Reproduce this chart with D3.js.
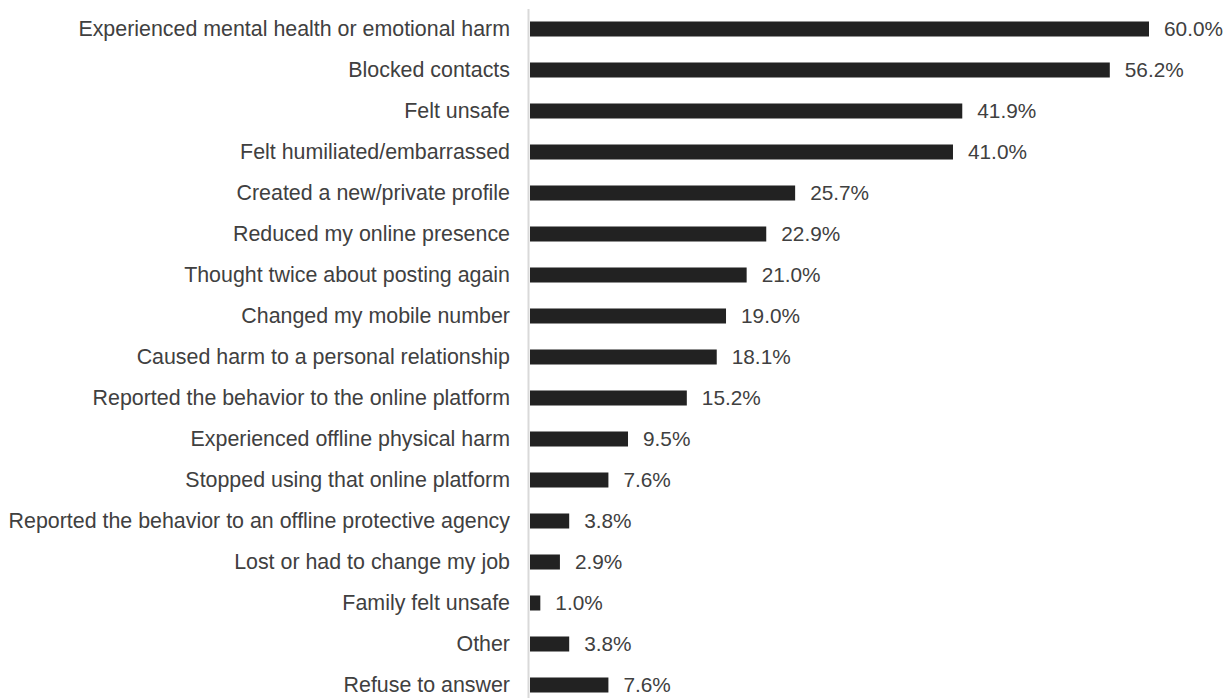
<!DOCTYPE html>
<html>
<head>
<meta charset="utf-8">
<script src="https://cdn.jsdelivr.net/npm/d3@7"></script>
<style>
  html, body { margin: 0; padding: 0; background: #ffffff; }
  svg { display: block; }
  text { font-family: "Liberation Sans", Arial, "DejaVu Sans", sans-serif; }
</style>
</head>
<body>
<svg id="chart" width="1231" height="698"></svg>
<script>
// Consequences reported, share of respondents (%)
const categories = [
  "Experienced mental health or emotional harm",
  "Blocked contacts",
  "Felt unsafe",
  "Felt humiliated/embarrassed",
  "Created a new/private profile",
  "Reduced my online presence",
  "Thought twice about posting again",
  "Changed my mobile number",
  "Caused harm to a personal relationship",
  "Reported the behavior to the online platform",
  "Experienced offline physical harm",
  "Stopped using that online platform",
  "Reported the behavior to an offline protective agency",
  "Lost or had to change my job",
  "Family felt unsafe",
  "Other",
  "Refuse to answer"
];
const values = [60.0, 56.2, 41.9, 41.0, 25.7, 22.9, 21.0, 19.0, 18.1, 15.2, 9.5, 7.6, 3.8, 2.9, 1.0, 3.8, 7.6];

const rows = categories.map((c, i) => ({ category: c, value: values[i] }));

const svg = d3.select("#chart");
const axisX = 528;

const x = d3.scaleLinear()
  .domain([0, 60])
  .range([axisX + 2, 1149]);

const y = d3.scaleBand()
  .domain(categories)
  .range([8.5, 705.5])
  .paddingInner(0.634)
  .paddingOuter(0.317);

// Bars
svg.append("g")
  .selectAll("rect")
  .data(rows)
  .join("rect")
  .attr("x", x(0))
  .attr("y", d => y(d.category))
  .attr("width", d => x(d.value) - x(0))
  .attr("height", y.bandwidth())
  .attr("fill", "#222222");

// Value labels
svg.append("g")
  .selectAll("text")
  .data(rows)
  .join("text")
  .attr("x", d => x(d.value) + 15)
  .attr("y", d => y(d.category) + y.bandwidth() / 2)
  .attr("dy", "0.35em")
  .attr("font-size", 20.8)
  .attr("fill", "#404040")
  .text(d => d.value.toFixed(1) + "%");

// Category axis
const axis = svg.append("g")
  .attr("transform", `translate(${axisX},0)`)
  .call(d3.axisLeft(y).tickSize(0).tickPadding(18));

axis.select(".domain")
  .attr("stroke", "#d9d9d9")
  .attr("stroke-width", 2);

axis.selectAll(".tick text")
  .attr("font-size", 21.4)
  .attr("font-family", "'Liberation Sans', Arial, sans-serif")
  .attr("fill", "#404040");
</script>
</body>
</html>
